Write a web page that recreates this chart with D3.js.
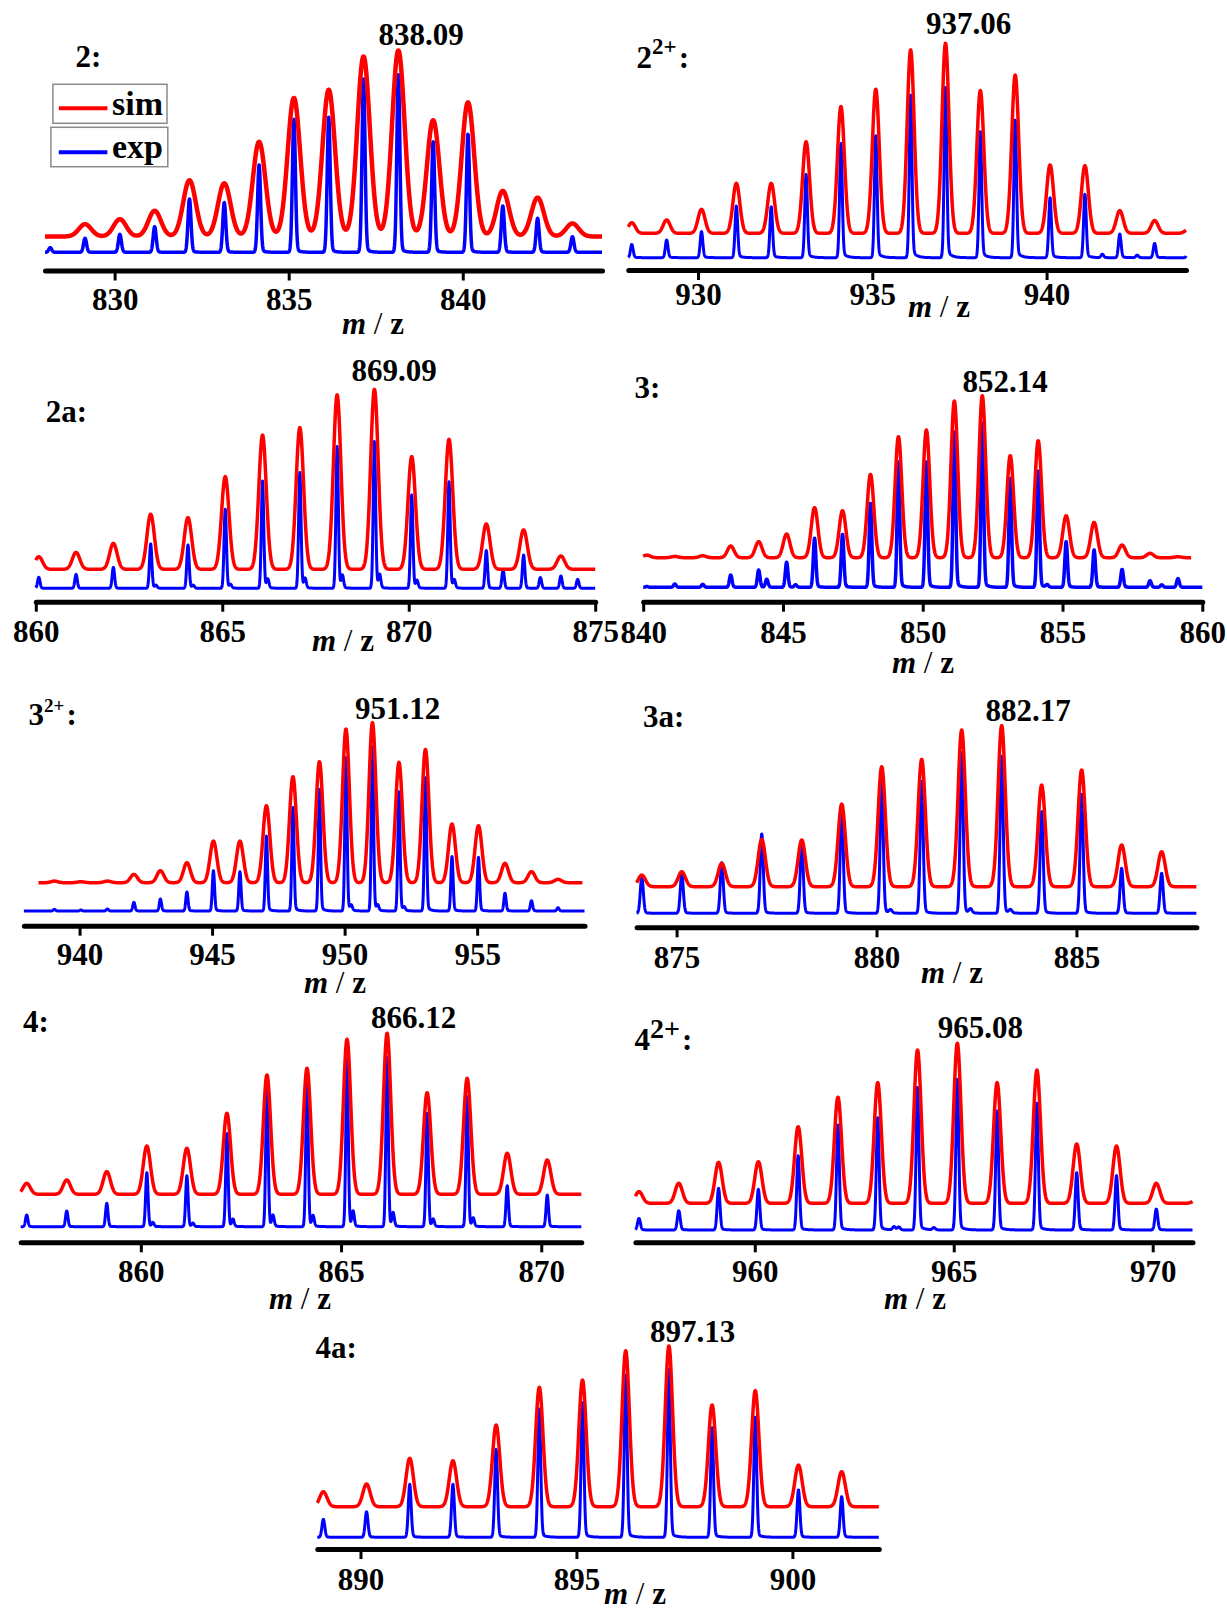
<!DOCTYPE html>
<html>
<head>
<meta charset="utf-8">
<script src="https://cdn.jsdelivr.net/npm/d3@7"></script>
<style>
  body { margin: 0; background: #fff; }
  svg text { font-family: 'Liberation Serif', 'Times New Roman', serif; font-weight: bold; fill: #000; }
</style>
</head>
<body>
<svg id="chart" width="1227" height="1611"></svg>
<script>
// ---- data: isotope peak centres (m/z) and relative intensities (%) ----
const mz2 = [829.15, 830.15, 831.15, 832.15, 833.15, 834.15, 835.15, 836.15, 837.15, 838.15, 839.15, 840.15, 841.15, 842.15, 843.15, 828.15];
const sim2 = [6.6, 9.3, 13.8, 30.2, 28.6, 50.9, 74.5, 78.9, 96.8, 100, 62.5, 72.1, 24.5, 20.9, 7.0, 0];
const exp2 = [7.9, 10.1, 14.4, 30.0, 28.0, 49.2, 74.9, 76.0, 97.6, 100, 62.3, 66.4, 26.1, 19.1, 8.8, 2.6];

const mz22 = [928.1, 929.1, 930.1, 931.1, 932.1, 933.1, 934.1, 935.1, 936.1, 937.1, 938.1, 939.1, 940.1, 941.1, 942.1, 943.1, 944.07];
const sim22 = [5.6, 7.0, 12.6, 26.3, 26.3, 48.2, 66.7, 75.8, 96.5, 100, 75.1, 83.3, 36.0, 35.6, 11.9, 6.7, 2];
const exp22 = [7.8, 10.4, 15.3, 30.3, 29.9, 48.9, 67.1, 71.6, 95.5, 100, 74.0, 80.8, 35.2, 37.2, 13.9, 8.4, 6];
const sat22Mz = [941.6, 942.6];
const sat22Exp = [2, 1.5];

const mz2a = [860.08, 861.08, 862.08, 863.08, 864.08, 865.08, 866.08, 867.08, 868.08, 869.08, 870.08, 871.08, 872.08, 873.08, 874.08];
const sim2a = [7.0, 9.4, 14.4, 30.6, 28.7, 51.5, 74.6, 78.7, 96.9, 100, 62.6, 72.2, 25.2, 21.9, 7.4];
const exp2a = [7.5, 9.5, 14.3, 30.2, 29.5, 53.9, 73.2, 78.9, 96.6, 100, 63.6, 72.7, 25.7, 22.7, 8.4];
const sat2aMz = [863.22, 864.22, 865.22, 866.22, 867.22, 868.22, 869.22, 870.22, 871.22, 872.53, 873.53, 874.53];
const sat2aExp = [2, 2, 2.5, 6.1, 6.6, 8.6, 9.1, 5.2, 5.7, 12.5, 7.3, 6.1];

const mz3 = [840.13, 841.13, 842.13, 843.13, 844.13, 845.13, 846.13, 847.13, 848.13, 849.13, 850.13, 851.13, 852.13, 853.13, 854.13, 855.13, 856.13, 857.13, 858.13, 859.13];
const sim3 = [1.6, 0.8, 1.2, 7.2, 9.9, 14.6, 30.9, 29.0, 51.4, 74.7, 78.8, 96.7, 100, 63.0, 72.2, 25.9, 21.8, 7.8, 2.7, 0.6];
const exp3 = [0.5, 2.0, 1.8, 7.5, 10.5, 15.2, 29.8, 32.2, 51.0, 76.3, 76.3, 94.5, 100, 66.2, 70.6, 27.7, 22.7, 10.9, 4.0, 5.3];
const sat3Mz = [844.42, 845.45, 854.45, 858.55];
const sat3Exp = [4.9, 1.5, 1.5, 1.5];

const mz32 = [939.05, 940.05, 941.05, 942.05, 943.05, 944.05, 945.05, 946.05, 947.05, 948.05, 949.05, 950.05, 951.05, 952.05, 953.05, 954.05, 955.05, 956.05, 957.05, 958.05];
const sim32 = [1.0, 0.6, 1.0, 5.2, 7.5, 12.5, 26.0, 26.0, 48.1, 66.3, 75.6, 96.0, 100, 75.2, 83.3, 36.7, 35.6, 12.1, 6.9, 2.1];
const exp32 = [1.0, 0.6, 1.2, 5.3, 7.3, 11.6, 24.5, 23.9, 45.6, 63.1, 74.2, 93.5, 100, 72.6, 81.1, 33.1, 32.7, 10.8, 6.3, 2.0];
const sat32Mz = [950.25, 951.25, 952.25];
const sat32Exp = [3, 3, 2];

const mz3a = [874.13, 875.13, 876.13, 877.13, 878.13, 879.13, 880.13, 881.13, 882.13, 883.13, 884.13, 885.13, 886.13, 887.13];
const sim3a = [7.2, 9.3, 14.5, 29.4, 29.0, 51.3, 74.5, 79.1, 97.3, 100, 63.1, 72.5, 25.9, 21.7];
const exp3a = [22.4, 24.5, 31.5, 49.4, 44.0, 65.4, 82.6, 82.0, 100, 97.9, 63.3, 74.1, 28.0, 24.9];
const sat3aMz = [880.35, 882.35, 883.35];
const sat3aExp = [2, 2.5, 2];

const mz4 = [857.15, 858.15, 859.15, 860.15, 861.15, 862.15, 863.15, 864.15, 865.15, 866.15, 867.15, 868.15, 869.15, 870.15];
const sim4 = [6.8, 8.9, 14.1, 30.0, 28.6, 50.3, 74.1, 78.3, 96.3, 100, 63.1, 72.0, 25.5, 21.3];
const exp4 = [6.9, 9.3, 13.8, 31.9, 30.1, 55.1, 82.7, 87.0, 98.8, 100, 66.9, 76.8, 24.2, 18.7];
const sat4Mz = [860.3, 861.3, 862.3, 863.3, 864.3, 865.3, 866.3, 867.3, 868.3];
const sat4Exp = [2.4, 2.0, 4.3, 6.5, 6.3, 8.9, 7.9, 4.3, 4.9];

const mz42 = [957.09, 958.09, 959.09, 960.09, 961.09, 962.09, 963.09, 964.09, 965.09, 966.09, 967.09, 968.09, 969.09, 970.09, 971.1];
const sim42 = [7.3, 12.5, 25.6, 26.0, 47.9, 66.3, 75.4, 95.8, 100, 75.4, 83.3, 37.1, 35.8, 12.5, 2];
const exp42 = [7.7, 12.8, 27.6, 26.9, 49.2, 69.5, 74.4, 94.5, 100, 78.8, 83.9, 38.0, 36.0, 13.9, 0];
const sat42Mz = [963.5, 963.62, 964.5];
const sat42Exp = [2.2, 2.0, 1.5];

const mz4a = [889.14, 890.14, 891.14, 892.14, 893.14, 894.14, 895.14, 896.14, 897.14, 898.14, 899.14, 900.14, 901.14];
const sim4a = [9.3, 14.1, 30.1, 28.6, 50.8, 74.3, 78.8, 97.1, 100, 63.3, 72.2, 25.9, 21.8];
const exp4a = [10.7, 15.2, 31.5, 31.5, 52.3, 76.2, 80.0, 96.4, 100, 65.1, 71.3, 28.1, 24.2];

const titleBase = ['2', '2', '2a', '3', '3', '3a', '4', '4', '4a'];
const titleSup = ['', '2+', '', '', '2+', '', '', '2+', ''];
const peakLabels = ['838.09', '937.06', '869.09', '852.14', '951.12', '882.17', '866.12', '965.08', '897.13'];

const ticks2 = [830, 835, 840];
const ticks22 = [930, 935, 940];
const ticks2a = [860, 865, 870, 875];
const ticks3 = [840, 845, 850, 855, 860];
const ticks32 = [940, 945, 950, 955];
const ticks3a = [875, 880, 885];
const ticks4 = [860, 865, 870];
const ticks42 = [960, 965, 970];
const ticks4a = [890, 895, 900];

// ---- layout for each panel ----
const panels = [
  { mz: mz2, sim: sim2, exp: exp2, ticks: ticks2, domain: [828, 844], xr: [45, 602],
    axisY: 270.5, lab: 310, redBase: 236.5, redH: 186, blueBase: 252.3, blueH: 177.6,
    sig: 0.18, bsig: 1.5, tail: 0.03, red: 4.5, blue: 3.5,
    tx: 75.5, ty: 67, px: 421, py: 45, mx: 373, my: 334 },
  { mz: mz22, sim: sim22, exp: exp22, satMz: sat22Mz, satExp: sat22Exp, ticks: ticks22, domain: [928, 944], xr: [628.3, 1186],
    axisY: 270, lab: 305, redBase: 233.3, redH: 190, blueBase: 257.7, blueH: 170.3,
    sig: 0.1, bsig: 1.3, tail: 0.06,
    tx: 636.6, ty: 68, supSize: 23, supRaise: 14, px: 968.7, py: 34, mx: 939, my: 317 },
  { mz: mz2a, sim: sim2a, exp: exp2a, satMz: sat2aMz, satExp: sat2aExp, ticks: ticks2a, domain: [860, 875], xr: [35.8, 595.2],
    axisY: 601.7, lab: 641.7, redBase: 569.3, redH: 180, blueBase: 588.3, blueH: 146.7,
    sig: 0.1, bsig: 1.2, tail: 0.02,
    tx: 45.7, ty: 421.7, px: 394, py: 380.7, mx: 343, my: 651 },
  { mz: mz3, sim: sim3, exp: exp3, satMz: sat3Mz, satExp: sat3Exp, ticks: ticks3, domain: [840, 860], xr: [643.2, 1202.3],
    simDom: [840, 859.6],
    axisY: 601.7, lab: 643, redBase: 557.7, redH: 162, blueBase: 587.3, blueH: 164.7,
    sig: 0.12, bsig: 1.3, tail: 0.05, blue: 3.5,
    tx: 634.6, ty: 398.3, px: 1005, py: 391.7, mx: 923, my: 673 },
  { mz: mz32, sim: sim32, exp: exp32, satMz: sat32Mz, satExp: sat32Exp, ticks: ticks32, domain: [937.9, 959.05], xr: [23.9, 584.5],
    simDom: [938.45, 958.97],
    axisY: 925.7, lab: 965, redBase: 882.7, redH: 160, blueBase: 911, blueH: 164.3,
    sig: 0.13, bsig: 1.1, tail: 0.05,
    tx: 28.6, ty: 725, supSize: 19, supRaise: 13, px: 397.6, py: 719.3, mx: 335, my: 993 },
  { mz: mz3a, sim: sim3a, exp: exp3a, satMz: sat3aMz, satExp: sat3aExp, ticks: ticks3a, domain: [874, 888], xr: [636.6, 1196.4],
    axisY: 927.3, lab: 968, redBase: 886.7, redH: 161, blueBase: 913.3, blueH: 160.7,
    sig: 0.09, bsig: 1.5, tail: 0.03,
    tx: 643, ty: 726.7, px: 1028, py: 720.7, mx: 952, my: 983 },
  { mz: mz4, sim: sim4, exp: exp4, satMz: sat4Mz, satExp: sat4Exp, ticks: ticks4, domain: [857, 871], xr: [20.7, 581.3],
    axisY: 1242.3, lab: 1281.7, redBase: 1194.3, redH: 161, blueBase: 1226.7, blueH: 169.3,
    sig: 0.09, bsig: 1.2, tail: 0.02,
    tx: 23, ty: 1031.7, px: 413.5, py: 1028.3, mx: 300, my: 1309 },
  { mz: mz42, sim: sim42, exp: exp42, satMz: sat42Mz, satExp: sat42Exp, ticks: ticks42, domain: [957, 971], xr: [635.4, 1192.5],
    axisY: 1242.3, lab: 1281.7, redBase: 1203.3, redH: 160, blueBase: 1230, blueH: 151,
    sig: 0.09, bsig: 1.4, tail: 0.04,
    tx: 634.6, ty: 1050, supSize: 28, supRaise: 12, px: 980.4, py: 1038.3, mx: 915, my: 1309 },
  { mz: mz4a, sim: sim4a, exp: exp4a, ticks: ticks4a, domain: [889, 902], xr: [317.3, 878.8],
    axisY: 1549, lab: 1590, redBase: 1506.7, redH: 160.7, blueBase: 1537.3, blueH: 168.3,
    sig: 0.085, bsig: 1.4, tail: 0.03,
    tx: 315.4, ty: 1358.3, px: 692.5, py: 1341.7, mx: 635, my: 1604 }
];

// peak shape: gaussian plus a small tail to the high-mass side
function profile(centres, values, sigma, tail, decay) {
  return m => {
    let s = 0;
    for (let i = 0; i < centres.length; i++) {
      const d = m - centres[i];
      if (Math.abs(d) > 2) continue;
      let v = Math.exp(-0.5 * (d / sigma) * (d / sigma));
      if (d > 0 && tail) v += tail * Math.exp(-d / decay) * (1 - Math.exp(-0.5 * (d / sigma) * (d / sigma)));
      s += values[i] * v;
    }
    return s;
  };
}

const svg = d3.select('#chart');
svg.append('rect').attr('width', 1227).attr('height', 1611).attr('fill', '#fff');

panels.forEach((p, k) => {
  const g = svg.append('g');
  const x = d3.scaleLinear().domain(p.domain).range(p.xr);
  const ySim = d3.scaleLinear().domain([0, 100]).range([p.redBase, p.redBase - p.redH]);
  const yExp = d3.scaleLinear().domain([0, 100]).range([p.blueBase, p.blueBase - p.blueH]);
  const unit = x(p.domain[0] + 1) - x(p.domain[0]);

  const simF = profile(p.mz, p.sim, p.sig, 0, 1);
  const expF = profile(p.mz.concat(p.satMz || []), p.exp.concat(p.satExp || []), p.bsig / unit, p.tail, 0.12);

  const sd = p.simDom || p.domain;
  const n = 3000;
  const simPts = d3.range(n + 1).map(i => sd[0] + (sd[1] - sd[0]) * i / n);
  const expPts = d3.range(n + 1).map(i => p.domain[0] + (p.domain[1] - p.domain[0]) * i / n);

  g.append('path').datum(expPts)
    .attr('d', d3.line().x(m => x(m)).y(m => yExp(expF(m))))
    .attr('fill', 'none').attr('stroke', '#0000ff')
    .attr('stroke-width', p.blue || 3).attr('stroke-linejoin', 'round');

  g.append('path').datum(simPts)
    .attr('d', d3.line().x(m => x(m)).y(m => ySim(simF(m))))
    .attr('fill', 'none').attr('stroke', '#ff0000')
    .attr('stroke-width', p.red || 3.5).attr('stroke-linejoin', 'round');

  const ax = d3.axisBottom(x).tickValues(p.ticks).tickSize(10).tickSizeOuter(0).tickFormat(d3.format('d'));
  const ga = g.append('g').attr('transform', 'translate(0,' + p.axisY + ')').call(ax)
    .attr('font-family', null).attr('font-size', null);
  ga.select('.domain').attr('stroke-width', 5).attr('stroke-linecap', 'round');
  ga.selectAll('.tick line').attr('stroke-width', 3);
  ga.selectAll('.tick text').attr('y', p.lab - p.axisY).attr('dy', 0).style('font-size', '31px');

  // panel title
  const t = g.append('text').attr('x', p.tx).attr('y', p.ty).style('font-size', '31px');
  t.append('tspan').text(titleBase[k]);
  if (titleSup[k]) {
    t.append('tspan').attr('dy', -p.supRaise).style('font-size', p.supSize + 'px').text(titleSup[k]);
    t.append('tspan').attr('dy', p.supRaise).attr('dx', 2).text(':');
  } else {
    t.append('tspan').text(':');
  }

  // most intense peak
  g.append('text').attr('x', p.px).attr('y', p.py).attr('text-anchor', 'middle')
    .style('font-size', '31px').text(peakLabels[k]);

  // m / z
  const mt = g.append('text').attr('x', p.mx).attr('y', p.my).attr('text-anchor', 'middle').style('font-size', '31px');
  mt.append('tspan').style('font-style', 'italic').text('m');
  mt.append('tspan').style('font-weight', 'normal').text(' / ');
  mt.append('tspan').text('z');
});

// legend of the first panel
const legendItems = [
  { name: 'sim', color: '#ff0000', bx: 52.9, by: 84.3, bw: 114.1, bh: 39, ly: 108.3, ty: 115 },
  { name: 'exp', color: '#0000ff', bx: 50.9, by: 127.3, bw: 116.9, bh: 39.4, ly: 152.3, ty: 158 }
];
const lg = svg.append('g');
legendItems.forEach(d => {
  lg.append('rect').attr('x', d.bx).attr('y', d.by).attr('width', d.bw).attr('height', d.bh)
    .attr('fill', '#fff').attr('stroke', '#8a8a8a').attr('stroke-width', 1.5);
  lg.append('line').attr('x1', 58.8).attr('x2', 107.4).attr('y1', d.ly).attr('y2', d.ly)
    .attr('stroke', d.color).attr('stroke-width', 4);
  lg.append('text').attr('x', 112).attr('y', d.ty).style('font-size', '34px').text(d.name);
});
</script>
</body>
</html>
